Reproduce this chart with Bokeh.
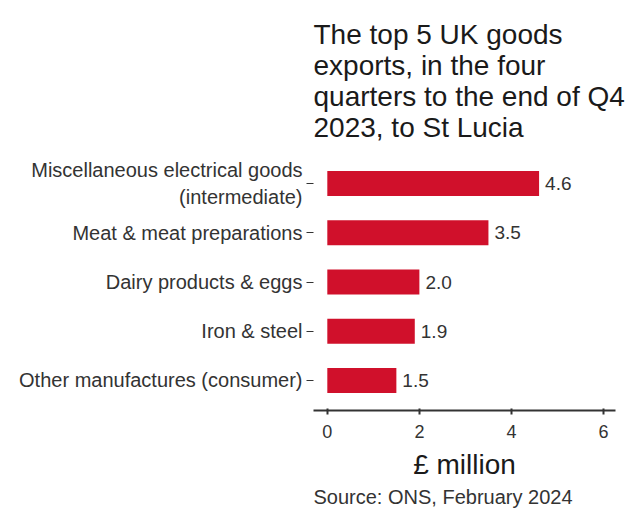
from bokeh.plotting import figure
from bokeh.models import FactorRange, Range1d, Title, ColumnDataSource, FixedTicker
from bokeh.core.properties import value
from bokeh.embed import file_html
from bokeh.resources import INLINE

categories = [
    "Miscellaneous electrical goods\n(intermediate)",
    "Meat & meat preparations",
    "Dairy products & eggs",
    "Iron & steel",
    "Other manufactures (consumer)",
]
values = [4.6, 3.5, 2.0, 1.9, 1.5]
value_labels = ["4.6", "3.5", "2.0", "1.9", "1.5"]
x_ticks = [0, 2, 4, 6]

FONT = "Liberation Sans"

y_factors = list(reversed(categories))
yr = FactorRange(factors=y_factors, range_padding=0.044, range_padding_units="percent")

p = figure(
    frame_width=302, frame_height=257,
    y_range=yr, x_range=Range1d(-0.3, 6.26),
    output_backend="svg", toolbar_location=None,
    min_border_left=313, min_border_right=26, min_border_bottom=98, min_border_top=153,
)
p.title = None
p.add_layout(Title(text="The top 5 UK goods\nexports, in the four\nquarters to the end of Q4\n2023, to St Lucia",
                   text_font=FONT, text_font_size="28px", text_font_style="normal",
                   text_color="#1a1a1a", align="left", standoff=22), "above")

src = ColumnDataSource(dict(cat=categories, val=values, lab=value_labels))
p.hbar(y="cat", right="val", left=0, height=0.51, source=src,
       fill_color="#D0102B", line_color=None)
p.text(x="val", y="cat", text="lab", source=src, x_offset=6,
       text_font=value(FONT), text_font_size="19px", text_color="#333333",
       text_baseline="middle", text_align="left")

p.xgrid.visible = False
p.ygrid.visible = False
p.outline_line_color = None
p.background_fill_color = "white"
p.border_fill_color = "white"

xa = p.xaxis[0]
xa.ticker = FixedTicker(ticks=x_ticks)
xa.minor_tick_line_color = None
xa.axis_line_color = "#333333"
xa.axis_line_width = 2
xa.major_tick_line_color = "#333333"
xa.major_tick_line_width = 2
xa.major_tick_in = 2
xa.major_tick_out = 4
xa.major_label_text_font = FONT
xa.major_label_text_font_size = "18px"
xa.major_label_text_color = "#333333"
xa.major_label_standoff = 10
xa.axis_label = "£ million"
xa.axis_label_text_font = FONT
xa.axis_label_text_font_size = "28px"
xa.axis_label_text_font_style = "normal"
xa.axis_label_text_color = "#1a1a1a"
xa.axis_label_standoff = 8

ya = p.yaxis[0]
ya.axis_line_color = None
ya.major_tick_line_color = "#333333"
ya.major_tick_in = 0
ya.major_tick_out = 7
ya.minor_tick_line_color = None
ya.major_label_text_font = FONT
ya.major_label_text_font_size = "20px"
ya.major_label_text_color = "#333333"
ya.major_label_standoff = 4

p.add_layout(Title(text="Source: ONS, February 2024", text_font=FONT, text_font_size="20px",
                   text_font_style="normal", text_color="#333333", align="left", standoff=2), "below")

open("out.html", "w").write(file_html(p, INLINE))
